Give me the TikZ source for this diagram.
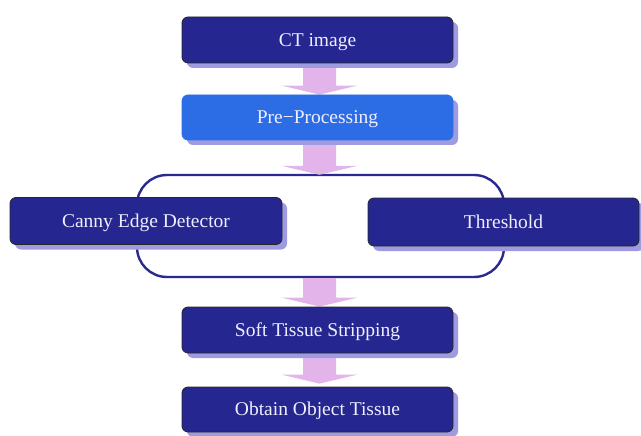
\documentclass[tikz,border=0pt]{standalone}
\usepackage{fontspec}
\setmainfont{Liberation Serif}
\usetikzlibrary{calc,shadows,backgrounds}

\definecolor{boxblue}{HTML}{262690}
\definecolor{prebox}{HTML}{2C6DE6}
\definecolor{shade}{HTML}{9E9BE0}
\definecolor{flowpink}{HTML}{E2B4EA}
\definecolor{linkline}{HTML}{2A2A8E}
\definecolor{labeltext}{HTML}{EEEEFF}

\tikzset{
  stagebox/.style={draw=black!85, line width=0.8pt, fill=boxblue, rounded corners=6pt,
    text=labeltext, font=\fontsize{19.5}{22}\selectfont, inner sep=0pt,
    text height=12.9pt, text depth=0pt,
    drop shadow={shadow xshift=5pt, shadow yshift=-5pt, fill=shade, opacity=1}},
  prestage/.style={stagebox, fill=prebox, draw=prebox},
  groupframe/.style={draw=linkline, line width=2.4pt, rounded corners=30pt, inner sep=0pt},
}

% block arrow from the first named point down to the second (tip)
\newcommand\flowarrow[2]{%
  \fill[flowpink] let \p1=(#1), \p2=(#2) in
    (\x1-16.5pt,\y1) -- (\x1+16.5pt,\y1) -- (\x1+16.5pt,\y2+9pt) -- (\x1+38pt,\y2+9pt)
    -- (\x1,\y2) -- (\x1-38pt,\y2+9pt) -- (\x1-16.5pt,\y2+9pt) -- cycle;}

\begin{document}
\begin{tikzpicture}[x=1pt,y=-1pt]
\useasboundingbox (0,0) rectangle (641,436);

\node[stagebox, minimum width=271pt, minimum height=46pt] (ct)    at (317.5,40)  {CT image};
\node[prestage, minimum width=271pt, minimum height=45pt] (pre)   at (317.5,117.5) {Pre−Processing};
\node[stagebox, minimum width=272pt, minimum height=47pt] (canny) at (146,221)   {Canny Edge Detector};
\node[stagebox, minimum width=271pt, minimum height=48pt] (thr)   at (503.5,222) {Threshold};
\node[stagebox, minimum width=271pt, minimum height=46pt] (soft)  at (317.5,330) {Soft Tissue Stripping};
\node[stagebox, minimum width=271pt, minimum height=45pt] (obj)   at (317.5,409.5) {Obtain Object Tissue};

\begin{scope}[on background layer]
  \node[groupframe, minimum width=367pt, minimum height=102pt] (grp) at (320.5,226) {};
  \coordinate (a1) at ($(ct.south)+(2,0)$);
  \coordinate (t1) at ($(pre.north)+(2,0)$);
  \coordinate (a2) at ($(pre.south)+(2,0)$);
  \coordinate (t2) at ($(grp.north)+(-1,1)$);
  \coordinate (a3) at ($(grp.south)+(-1,0)$);
  \coordinate (t3) at ($(soft.north)+(2,0)$);
  \coordinate (a4) at ($(soft.south)+(2,0)$);
  \coordinate (t4) at ($(obj.north)+(2,-3)$);
  \flowarrow{a1}{t1}
  \flowarrow{a2}{t2}
  \flowarrow{a3}{t3}
  \flowarrow{a4}{t4}
\end{scope}
\end{tikzpicture}
\end{document}
